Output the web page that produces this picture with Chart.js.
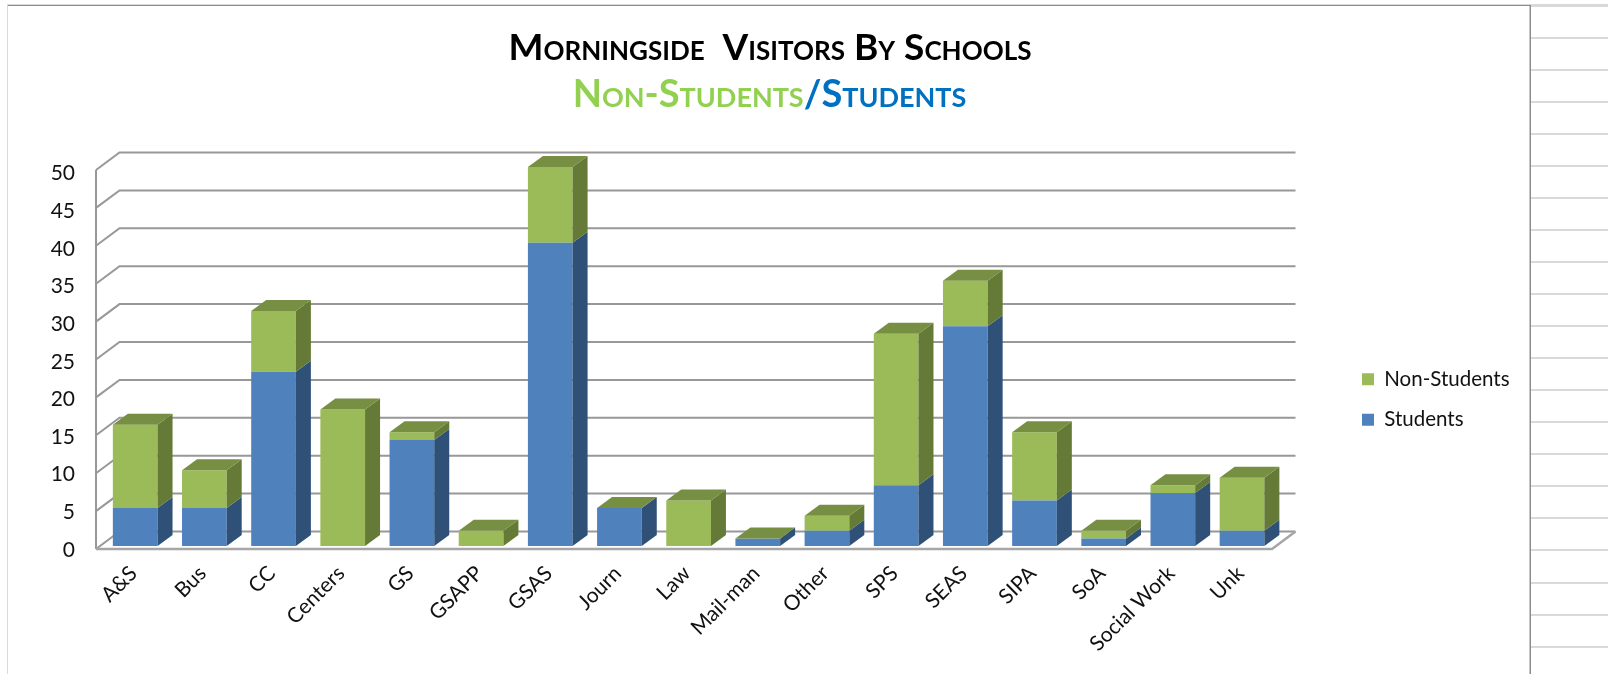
<!DOCTYPE html>
<html><head><meta charset="utf-8">
<style>html,body{margin:0;padding:0;background:#fff}#wrap{position:relative;width:1608px;height:674px}canvas{display:block}</style>
<script src="https://cdn.jsdelivr.net/npm/chart.js@4/dist/chart.umd.min.js"></script>
</head><body><div id="wrap"><canvas id="c" width="1608" height="674"></canvas></div>
<script>
const categories = ["A&S","Bus","CC","Centers","GS","GSAPP","GSAS","Journ","Law","Mail-man","Other","SPS","SEAS","SIPA","SoA","Social Work","Unk"];
const students    = [5,5,23,0,14,0,40,5,0,1,2,8,29,6,1,7,2];
const nonStudents = [11,5,8,18,1,2,10,0,6,0,2,20,6,9,1,1,7];
const titleText = "Morningside  Visitors By Schools";
const subtitleParts = [["Non-Students","#92D050"],["/","#0070C0"],["Students","#0070C0"]];
const FONT = "Lato";

const wall = {dx:23.5, dy:-17.5};
const barShift = {dx:4.6, dy:-3};
const depth = {dx:15, dy:-11};
const shade = {blueSide:"#2F5178", greenSide:"#647A36", greenTop:"#768F42"};

const chromePlugin = {
  id:"chrome",
  beforeDraw(chart){
    const c = chart.ctx; c.save();
    c.fillStyle="#fff"; c.fillRect(0,0,1608,674);
    c.fillStyle="#D9D9D9";
    c.fillRect(7,4,1,670);
    for(let y=4.6;y<674;y+=32.05){ c.fillRect(1530,Math.round(y),78,2); }
    c.fillRect(7,4,1601,1);
    c.fillStyle="#8C8C8C";
    c.fillRect(8,5,1523,1);
    c.fillRect(1529.5,5,1.5,669);
    c.restore();
  }
};

const wallPlugin = {
  id:"wall",
  beforeDatasetsDraw(chart){
    const c = chart.ctx, y = chart.scales.y, a = chart.chartArea;
    c.save();
    c.strokeStyle="#989898"; c.lineWidth=2;
    y.ticks.forEach(t=>{
      const py = y.getPixelForValue(t.value);
      c.beginPath();
      c.moveTo(a.left,py);
      c.lineTo(a.left+wall.dx,py+wall.dy);
      c.lineTo(a.right+wall.dx,py+wall.dy);
      c.stroke();
    });
    const y0 = y.getPixelForValue(0), y50 = y.getPixelForValue(50);
    c.beginPath(); c.moveTo(a.left,y50); c.lineTo(a.left,y0); c.stroke();
    c.strokeStyle="#A6A6A6"; c.lineWidth=2.5; c.beginPath();
    c.moveTo(a.left,y0); c.lineTo(a.right,y0); c.lineTo(a.right+wall.dx,y0+wall.dy); c.stroke();
    c.restore();
    c.save();
    c.translate(barShift.dx,barShift.dy);
  },
  afterDatasetsDraw(chart){
    const c = chart.ctx;
    const blue = chart.getDatasetMeta(0).data, green = chart.getDatasetMeta(1).data;
    const side = (b,col)=>{
      const r = b.x+b.width/2;
      c.fillStyle=col; c.beginPath();
      c.moveTo(r,b.base); c.lineTo(r+depth.dx,b.base+depth.dy);
      c.lineTo(r+depth.dx,b.y+depth.dy); c.lineTo(r,b.y); c.closePath(); c.fill();
    };
    blue.forEach((b,i)=>{
      const g = green[i];
      if(students[i]>0) side(b,shade.blueSide);
      if(nonStudents[i]>0) side(g,shade.greenSide);
      const l = g.x-g.width/2, r = g.x+g.width/2;
      c.fillStyle=shade.greenTop; c.beginPath();
      c.moveTo(l,g.y); c.lineTo(l+depth.dx,g.y+depth.dy);
      c.lineTo(r+depth.dx,g.y+depth.dy); c.lineTo(r,g.y); c.closePath(); c.fill();
    });
    c.restore();
  }
};

const titlePlugin = {
  id:"titles",
  afterDraw(chart){
    const c = chart.ctx; c.save();
    c.textBaseline="alphabetic"; c.textAlign="left";
    c.font = "small-caps bold 37px "+FONT;
    c.fillStyle="#000";
    const w = c.measureText(titleText).width;
    c.fillText(titleText,770-w/2,60);
    c.font = "small-caps bold 38px "+FONT;
    let tw = 0; subtitleParts.forEach(p=>tw+=c.measureText(p[0]).width);
    let x = 769.5-tw/2;
    subtitleParts.forEach(p=>{c.fillStyle=p[1]; c.fillText(p[0],x,107); x+=c.measureText(p[0]).width;});
    c.restore();
  }
};

const layoutTweaks = {
  id:"layoutTweaks",
  afterLayout(chart){
    const l = chart.legend;
    l.left=1342; l.top=349;
    l.right=l.left+l.width; l.bottom=l.top+l.height;
    l.adjustHitBoxes();
    const y = chart.scales.y;
    y.getLabelItems(chart.chartArea).forEach((it,i)=>{
      const t = it.options.translation;
      it.options.translation = [t[0], t[1]+1+2.5*(y.ticks[i].value/50)];
    });
  }
};

new Chart(document.getElementById("c"),{
  type:"bar",
  data:{labels:categories,datasets:[
    {label:"Students",data:students,backgroundColor:"#4F81BD",stack:"s",clip:false},
    {label:"Non-Students",data:nonStudents,backgroundColor:"#9BBB59",stack:"s",clip:false}
  ]},
  plugins:[chromePlugin,wallPlugin,titlePlugin,layoutTweaks],
  options:{
    responsive:false,animation:false,
    layout:{padding:{left:0,top:170,right:336,bottom:0}},
    datasets:{bar:{categoryPercentage:1,barPercentage:0.646,borderWidth:0}},
    plugins:{
      title:{display:false},
      tooltip:{enabled:false},
      legend:{
        position:"chartArea",align:"start",reverse:true,
        labels:{boxWidth:12,boxHeight:12,padding:20,color:"#111",font:{family:FONT,size:20.5}}
      }
    },
    scales:{
      x:{stacked:true,
        afterFit(s){s.height=125;},
        grid:{display:false,drawTicks:false},border:{display:false},
        ticks:{autoSkip:false,minRotation:45,maxRotation:45,padding:12,labelOffset:3,color:"#111",font:{family:FONT,size:21}}},
      y:{stacked:true,min:0,max:50,
        afterFit(s){s.width=96;},
        grid:{display:false,drawTicks:false},border:{display:false},
        ticks:{stepSize:5,padding:21,color:"#111",font:{family:FONT,size:21}}}
    }
  }
});
</script></body></html>
